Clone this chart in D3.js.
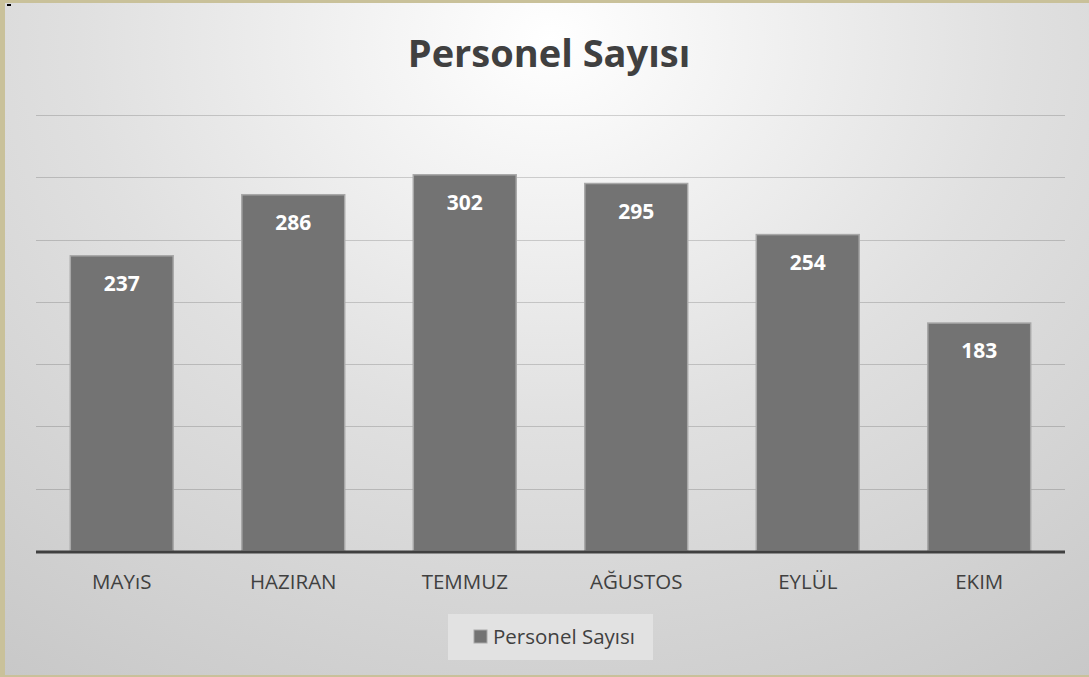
<!DOCTYPE html>
<meta charset="utf-8">
<style>
body { margin: 0; overflow: hidden; }
svg { display: block; font-family: "Open Sans", "Noto Sans", sans-serif; }
</style>
<script src="https://d3js.org/d3.v7.min.js"></script>
<body>
<svg id="chart" width="1089" height="677"></svg>
<script>
// data
var months = ["MAYıS", "HAZIRAN", "TEMMUZ", "AĞUSTOS", "EYLÜL", "EKIM"];
var personel = [237, 286, 302, 295, 254, 183];
var yTicks = [0, 50, 100, 150, 200, 250, 300, 350];
var seriesName = "Personel Sayısı";

var width = 1089, height = 677;
var svg = d3.select("#chart");

// background gradient
var defs = svg.append("defs");
var grad = defs.append("radialGradient")
    .attr("id", "bg")
    .attr("gradientUnits", "userSpaceOnUse")
    .attr("cx", 550).attr("cy", 40).attr("r", 780)
    .attr("gradientTransform", "translate(550,40) scale(1.2,1) translate(-550,-40)");
grad.append("stop").attr("offset", "0%").attr("stop-color", "#ffffff");
grad.append("stop").attr("offset", "50%").attr("stop-color", "#e0e0e0");
grad.append("stop").attr("offset", "100%").attr("stop-color", "#c8c8c8");

svg.append("rect").attr("width", width).attr("height", height).attr("fill", "#c9c19a");
svg.append("rect").attr("x", 5).attr("y", 3).attr("width", width - 5).attr("height", height - 5)
    .attr("fill", "url(#bg)");
svg.append("rect").attr("x", 7).attr("y", 4).attr("width", 4).attr("height", 2).attr("fill", "#000");

var x = d3.scaleBand()
    .domain(months)
    .range([36, 1065])
    .paddingInner(0.4)
    .paddingOuter(0.2);

var y = d3.scaleLinear()
    .domain([0, 350])
    .range([551, 115]);

// gridlines
svg.append("g")
  .selectAll("line")
  .data(yTicks.slice(1))
  .enter().append("line")
    .attr("x1", 36).attr("x2", 1065)
    .attr("y1", function(d) { return Math.round(y(d)) + 0.5; })
    .attr("y2", function(d) { return Math.round(y(d)) + 0.5; })
    .attr("stroke", "rgba(0,0,0,0.16)")
    .attr("stroke-width", 1);

// bars
svg.append("g")
  .selectAll("rect")
  .data(personel)
  .enter().append("rect")
    .attr("x", function(d, i) { return x(months[i]); })
    .attr("y", function(d) { return y(d); })
    .attr("width", x.bandwidth())
    .attr("height", function(d) { return y(0) - y(d); })
    .attr("fill", "#737373")
    .attr("stroke", "#a8a8a8")
    .attr("stroke-width", 1.5);

// value labels
svg.append("g")
  .selectAll("text")
  .data(personel)
  .enter().append("text")
    .attr("x", function(d, i) { return x(months[i]) + x.bandwidth() / 2; })
    .attr("y", function(d) { return y(d) + 35; })
    .attr("text-anchor", "middle")
    .attr("fill", "#ffffff")
    .attr("font-weight", "bold")
    .attr("font-size", 21)
    .text(function(d) { return d; });

// baseline
svg.append("line")
    .attr("x1", 36).attr("x2", 1065)
    .attr("y1", y(0) + 1).attr("y2", y(0) + 1)
    .attr("stroke", "#404040")
    .attr("stroke-width", 3);

// x axis labels
var xAxis = svg.append("g")
    .attr("transform", "translate(0," + (y(0) + 2) + ")")
    .call(d3.axisBottom(x).tickSize(0).tickPadding(20));
xAxis.select(".domain").remove();
xAxis.selectAll("text")
    .attr("dy", "0.8em")
    .attr("font-family", "\"Open Sans\", sans-serif")
    .attr("font-size", 20.5)
    .attr("fill", "#404040");

// title
svg.append("text")
    .attr("x", 549).attr("y", 67)
    .attr("text-anchor", "middle")
    .attr("font-size", 38)
    .attr("font-weight", "bold")
    .attr("fill", "#404040")
    .text(seriesName);

// legend
var legend = svg.append("g");
legend.append("rect")
    .attr("x", 448).attr("y", 614).attr("width", 205).attr("height", 46)
    .attr("fill", "#e2e2e2");
legend.append("rect")
    .attr("x", 474).attr("y", 630).attr("width", 13).attr("height", 13)
    .attr("fill", "#737373").attr("stroke", "#a8a8a8").attr("stroke-width", 1);
legend.append("text")
    .attr("x", 493).attr("y", 644)
    .attr("font-size", 20.5)
    .attr("fill", "#404040")
    .text(seriesName);
</script>
</body>
